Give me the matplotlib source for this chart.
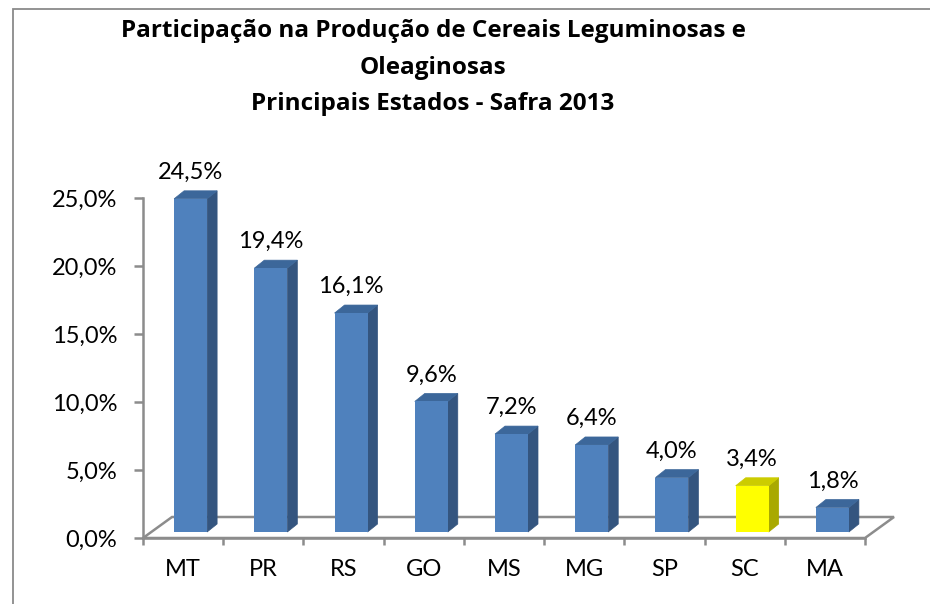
import matplotlib.pyplot as plt
from matplotlib.patches import Polygon, Rectangle

states = ["MT", "PR", "RS", "GO", "MS", "MG", "SP", "SC", "MA"]
shares = [24.5, 19.4, 16.1, 9.6, 7.2, 6.4, 4.0, 3.4, 1.8]
labels = ["24,5%", "19,4%", "16,1%", "9,6%", "7,2%", "6,4%", "4,0%", "3,4%", "1,8%"]
highlight = "SC"
yticks = [0, 5, 10, 15, 20, 25]
title_lines = ["Participação na Produção de Cereais Leguminosas e",
               "Oleaginosas",
               "Principais Estados - Safra 2013"]

plt.rcParams["font.family"] = ["Lato", "DejaVu Sans"]

W, H = 930, 604
fig = plt.figure(figsize=(W / 100, H / 100), dpi=100)
fig.patch.set_facecolor("white")

# chart area frame (cropped at right/bottom)
fig.add_artist(Rectangle((13 / W, -0.1), 1.2, (H - 9) / H + 0.1,
                         transform=fig.transFigure, fill=False,
                         edgecolor="#8a8a8a", lw=1.3))

x0, x1, y0, y1 = 143, 865, 198, 538
ax = fig.add_axes([x0 / W, (H - y1) / H, (x1 - x0) / W, (y1 - y0) / H])
n = len(states)
ax.set_xlim(0, n)
ax.set_ylim(0, 25)

# pixel -> data units
px_x = n / (x1 - x0)
px_y = 25 / (y1 - y0)

gray = "#8c8c8c"
# floor
fdx, fdy = 29 * px_x, 21 * px_y
floor = Polygon([(0, 0), (n, 0), (n + fdx, fdy), (fdx, fdy)], closed=True,
                facecolor="white", edgecolor=gray, lw=1.8, clip_on=False, zorder=1)
ax.add_patch(floor)

# bars with pseudo 3D faces
bw = 33 * px_x
shift_x, base = 7.5 * px_x, 6 * px_y
ddx, ddy = 10 * px_x, 8 * px_y
centers = [i + 0.5 + shift_x for i in range(n)]
fronts = ["#FFFF00" if s == highlight else "#4F81BD" for s in states]
sides = ["#A9A900" if s == highlight else "#34557F" for s in states]
tops = ["#CCCC00" if s == highlight else "#3C679A" for s in states]

bars = ax.bar(centers, shares, width=bw, bottom=base, color=fronts,
              zorder=3, clip_on=False)
for rect, v, sc, tc, lab in zip(bars, shares, sides, tops, labels):
    xl = rect.get_x()
    xr = xl + rect.get_width()
    yt = base + v
    ax.add_patch(Polygon([(xr, base), (xr + ddx, base + ddy),
                          (xr + ddx, yt + ddy), (xr, yt)],
                         facecolor=sc, edgecolor=sc, lw=0.5, zorder=2, clip_on=False))
    ax.add_patch(Polygon([(xl, yt), (xr, yt), (xr + ddx, yt + ddy), (xl + ddx, yt + ddy)],
                         facecolor=tc, edgecolor=tc, lw=0.5, zorder=2, clip_on=False))
    ax.annotate(lab, ((xl + xr) / 2, yt), xytext=(0, 14.4), textcoords="offset points",
                ha="center", va="baseline", fontsize=17, color="black",
                annotation_clip=False)

for s in ["top", "right"]:
    ax.spines[s].set_visible(False)
ax.spines["left"].set_color(gray)
ax.spines["bottom"].set_color(gray)
ax.spines["left"].set_linewidth(1.8)
ax.spines["bottom"].set_linewidth(1.8)

ax.set_yticks(yticks)
ax.set_yticklabels([f"{t:.1f}%".replace(".", ",") for t in yticks])
ax.tick_params(axis="y", length=6.5, width=1.8, color=gray, labelsize=17, pad=12)

ax.set_xticks(range(n + 1))
ax.set_xticklabels([])
ax.tick_params(axis="x", which="major", length=5, width=1.8, color=gray)
ax.set_xticks([i + 0.5 for i in range(n)], minor=True)
ax.set_xticklabels(states, minor=True)
ax.tick_params(axis="x", which="minor", length=0, labelsize=17, pad=15)

for line, yb in zip(title_lines, [37, 73.5, 110]):
    fig.text(433 / W, 1 - yb / H, line, ha="center", va="baseline", fontsize=17.5,
             fontweight="bold", family=["Open Sans", "DejaVu Sans"])

fig.savefig("out.png", dpi=100)
